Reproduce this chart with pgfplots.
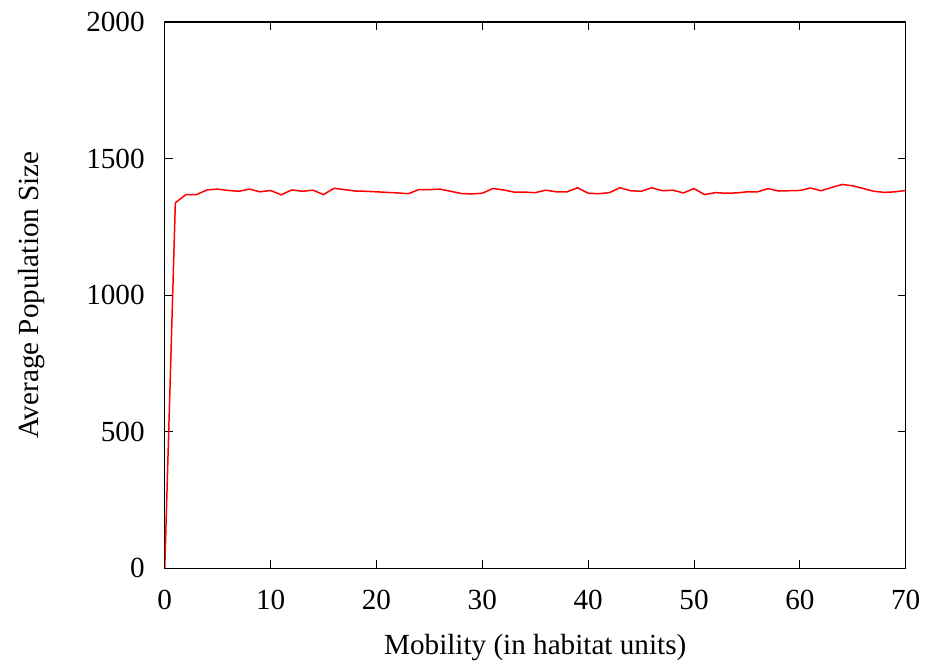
\documentclass[border=0pt]{standalone}
\usepackage{fontspec}
\setmainfont{Liberation Serif}
\usepackage{pgfplots}
\pgfplotsset{compat=1.18}
\begin{document}
\fontsize{14.6}{17}\selectfont
\begin{tikzpicture}
\begin{axis}[name=ax,
  scale only axis, width=371pt, height=273.5pt,
  xmin=0, xmax=70, ymin=0, ymax=2000,
  xtick={0,10,...,70}, ytick={0,500,...,2000},
  tick align=inside, major tick length=4pt,
  tick style={black, line width=0.5pt},
  axis line style={black, line width=0.6pt},
  /pgf/number format/assume math mode=true,
  /pgf/number format/1000 sep={},
  tick label style={font=\fontsize{14.6}{17}\selectfont},
  label style={font=\fontsize{14.6}{17}\selectfont},
  xticklabel style={yshift=-6pt},
  yticklabel style={xshift=-5pt},
  xlabel={Mobility (in habitat units)},
  ylabel={Average Population Size},
  xlabel style={yshift=-2pt},
  ylabel style={yshift=11pt},
]
\addplot[red, line width=0.75pt] coordinates {
(0,0) (1,1338) (2,1368) (3,1368) (4,1385) (5,1388) (6,1383) (7,1380) (8,1388) (9,1378)
(10,1383) (11,1367) (12,1385) (13,1380) (14,1384) (15,1368) (16,1391) (17,1386) (18,1381) (19,1380)
(20,1378) (21,1376) (22,1374) (23,1371) (24,1386) (25,1386) (26,1388) (27,1380) (28,1372) (29,1370)
(30,1373) (31,1390) (32,1385) (33,1377) (34,1377) (35,1375) (36,1384) (37,1378) (38,1378) (39,1393)
(40,1373) (41,1371) (42,1375) (43,1393) (44,1382) (45,1380) (46,1393) (47,1382) (48,1384) (49,1374)
(50,1390) (51,1368) (52,1375) (53,1373) (54,1374) (55,1378) (56,1378) (57,1390) (58,1381) (59,1382)
(60,1383) (61,1392) (62,1382) (63,1394) (64,1405) (65,1400) (66,1390) (67,1380) (68,1376) (69,1378)
(70,1383)
};
\end{axis}
\path (ax.south west) ++(-82.5pt,-47pt) coordinate (bl);
\path (ax.north east) ++(11.5pt,11pt) coordinate (tr);
\path (bl) rectangle (tr);
\end{tikzpicture}
\end{document}
